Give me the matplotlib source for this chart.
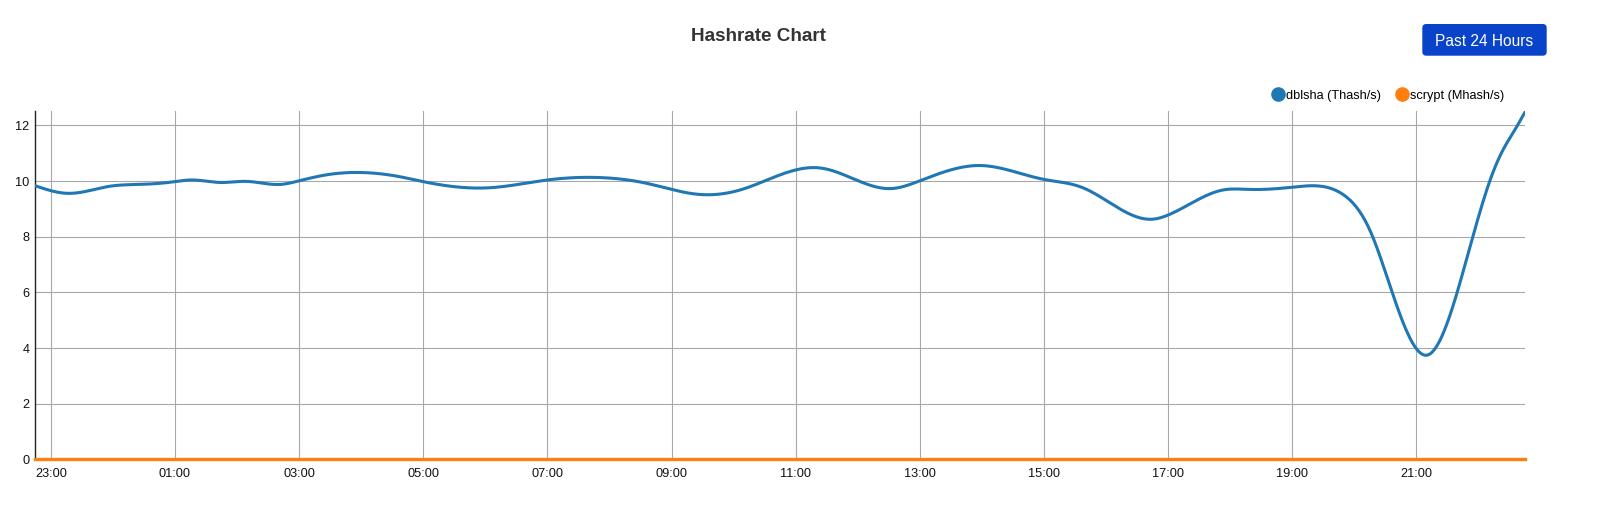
import numpy as np
import pandas as pd
import matplotlib
matplotlib.use("Agg")
import matplotlib.pyplot as plt
import matplotlib.dates as mdates
from matplotlib.lines import Line2D
from matplotlib.patches import FancyBboxPatch

plt.rcParams['font.family'] = ['Liberation Sans', 'DejaVu Sans']

# dblsha hashrate (Thash/s)
dblsha_times = ["01 22:45", "01 23:16", "01 23:58", "02 00:26", "02 01:00", "02 01:15",
                "02 01:44", "02 02:09", "02 02:42", "02 03:00", "02 03:29", "02 03:58",
                "02 04:37", "02 05:00", "02 06:04", "02 07:00", "02 07:48", "02 08:36",
                "02 09:27", "02 10:08", "02 11:00", "02 11:24", "02 12:32", "02 13:00",
                "02 13:58", "02 15:00", "02 15:37", "02 16:45", "02 17:00", "02 17:53",
                "02 18:19", "02 19:00", "02 19:23", "02 19:52", "02 20:15", "02 20:37",
                "02 21:11", "02 21:48", "02 22:10", "02 22:23", "02 22:35", "02 22:45"]
dblsha_values = [9.83, 9.56, 9.82, 9.88, 9.98, 10.04,
                 9.95, 9.99, 9.88, 10.01, 10.24, 10.31,
                 10.16, 9.98, 9.76, 10.04, 10.13, 9.92,
                 9.52, 9.70, 10.40, 10.47, 9.73, 10.01,
                 10.56, 10.06, 9.77, 8.63, 8.78, 9.68,
                 9.70, 9.78, 9.83, 9.44, 8.24, 5.96,
                 3.75, 7.12, 9.90, 11.07, 11.83, 12.48]

# scrypt hashrate (Mhash/s) sits flat at zero
scrypt_times = ["01 22:45", "02 22:45"]
scrypt_values = [0.0, 0.0]

x_tick_hours = [23, 1, 3, 5, 7, 9, 11, 13, 15, 17, 19, 21]
y_ticks = [0, 2, 4, 6, 8, 10, 12]


def to_num(times):
    return mdates.date2num([pd.Timestamp("2024-01-" + t) for t in times])


def natural_spline(x, y, n=1500):
    '''natural cubic spline through the points, just for drawing a smooth line'''
    x = np.asarray(x, float)
    y = np.asarray(y, float)
    N = len(x)
    h = np.diff(x)
    A = np.zeros((N, N))
    b = np.zeros(N)
    A[0, 0] = A[-1, -1] = 1.0
    for i in range(1, N - 1):
        A[i, i - 1] = h[i - 1]
        A[i, i] = 2 * (h[i - 1] + h[i])
        A[i, i + 1] = h[i]
        b[i] = 6 * ((y[i + 1] - y[i]) / h[i] - (y[i] - y[i - 1]) / h[i - 1])
    M = np.linalg.solve(A, b)
    xs = np.linspace(x[0], x[-1], n)
    idx = np.clip(np.searchsorted(x, xs) - 1, 0, N - 2)
    hi = h[idx]
    a = x[idx + 1] - xs
    c = xs - x[idx]
    ys = (M[idx] * a**3 + M[idx + 1] * c**3) / (6 * hi) \
        + (y[idx] / hi - M[idx] * hi / 6) * a + (y[idx + 1] / hi - M[idx + 1] * hi / 6) * c
    return xs, ys


dbl_x = to_num(dblsha_times)
scr_x = to_num(scrypt_times)

fig = plt.figure(figsize=(15.98, 5.32), dpi=100)
ax = fig.add_axes([35.3 / 1598, 72.7 / 532, (1525 - 35.3) / 1598, (459.3 - 110.7) / 532])

xs, ys = natural_spline(dbl_x, dblsha_values)
ax.plot(xs, ys, color='#1f77b4', lw=2.2, solid_capstyle='round', zorder=3)
ax.plot(scr_x, scrypt_values, color='#ff7f0e', lw=2.4, zorder=4, clip_on=False)

ax.set_xlim(scr_x[0], scr_x[-1])
ax.set_ylim(0, 12.53)
ax.xaxis.set_major_locator(mdates.HourLocator(byhour=x_tick_hours))
ax.xaxis.set_major_formatter(mdates.DateFormatter('%H:%M'))
ax.set_yticks(y_ticks)

ax.grid(True, color='#a8a8a8', lw=0.8)
ax.set_axisbelow(True)
for s in ['top', 'right', 'bottom']:
    ax.spines[s].set_visible(False)
ax.spines['left'].set_color('#222222')
ax.spines['left'].set_linewidth(1.0)
ax.tick_params(axis='both', length=0, labelsize=9.2, colors='#111111')
ax.tick_params(axis='y', pad=4)
ax.tick_params(axis='x', pad=6.5)

# title
fig.text(758 / 1598, 1 - 36.5 / 532, "Hashrate Chart", ha='center', va='center',
         fontsize=13.6, fontweight='bold', color='#333333')

# button
btn = FancyBboxPatch((14.223, (532 - 55.7) / 100), 1.244, 0.317,
                     boxstyle="round,pad=0,rounding_size=0.04",
                     fc='#0843c9', ec='none', transform=fig.dpi_scale_trans)
fig.add_artist(btn)
fig.text(1484.5 / 1598, 1 - 41.3 / 532, "Past 24 Hours", ha='center', va='center',
         fontsize=11.2, color='white')

# legend
handles = [Line2D([], [], marker='o', ls='', color='#1f77b4', markersize=9.5),
           Line2D([], [], marker='o', ls='', color='#ff7f0e', markersize=9.5)]
ax.legend(handles, ["dblsha (Thash/s)", "scrypt (Mhash/s)"], ncol=2, frameon=False,
          loc='center right', bbox_to_anchor=(1504 / 1598, 1 - 95.8 / 532),
          bbox_transform=fig.transFigure, fontsize=9.2, handlelength=0.9,
          handletextpad=0.15, columnspacing=1.2, borderpad=0, borderaxespad=0)

fig.savefig("out.png", dpi=100)
